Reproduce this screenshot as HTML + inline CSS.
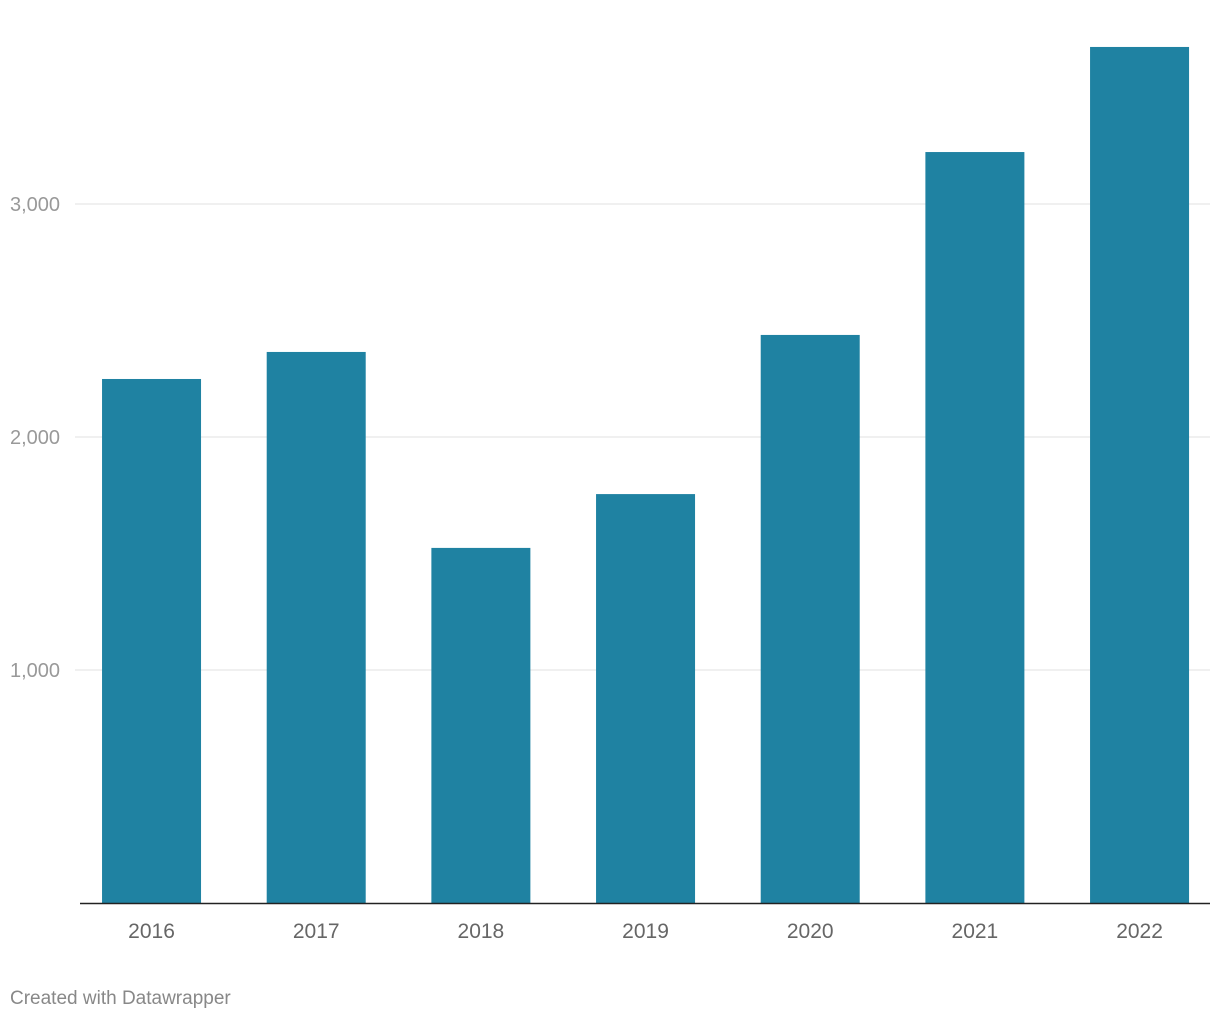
<!DOCTYPE html>
<html><head><meta charset="utf-8">
<style>
html,body{margin:0;padding:0;background:#fff;width:1220px;height:1020px;overflow:hidden;font-family:"Liberation Sans",sans-serif;}
</style></head>
<body>
<svg id="chart" width="1220" height="1020" xmlns="http://www.w3.org/2000/svg">
<text x="10" y="1004" font-size="19" fill="#888">Created with Datawrapper</text>
</svg>
<script>
const categories = ["2016","2017","2018","2019","2020","2021","2022"];
const values = [2249, 2365, 1524, 1755, 2438, 3223, 3674];
const yTicks = [1000, 2000, 3000];
const yTickLabels = ["1,000","2,000","3,000"];

const svg = document.getElementById('chart');
const NS = "http://www.w3.org/2000/svg";
const y0 = 903, pxPerUnit = 233/1000;
const y = v => y0 - v*pxPerUnit;
const x0 = 69.2, step = 164.67, barW = 99;
const xc = i => x0 + step*(i+0.5);

function mk(tag, attrs){const e=document.createElementNS(NS,tag);for(const k in attrs)e.setAttribute(k,attrs[k]);return e;}

yTicks.forEach((t,i)=>{
  const g = mk('line',{x1:75,x2:1210,y1:y(t),y2:y(t),stroke:'#e0e0e0','stroke-width':1});
  
  
  svg.appendChild(g);
  const l = mk('text',{x:10,y:y(t)+7,'font-size':20,fill:'#999'});
  
  
  l.textContent = yTickLabels[i];
  svg.appendChild(l);
});

values.forEach((v,i)=>{
  const r = mk('rect',{x:xc(i)-barW/2,y:y(v),width:barW,height:y0-y(v),fill:'#1f82a2'});
  
  
  svg.appendChild(r);
  const t = mk('text',{x:xc(i),y:938,'font-size':21,fill:'#666','text-anchor':'middle'});
  
  
  t.textContent = categories[i];
  svg.appendChild(t);
});

const ax = mk('line',{x1:80,x2:1210,y1:y0+0.5,y2:y0+0.5,stroke:'#222','stroke-width':1.5});


svg.appendChild(ax);
</script>
</body></html>
